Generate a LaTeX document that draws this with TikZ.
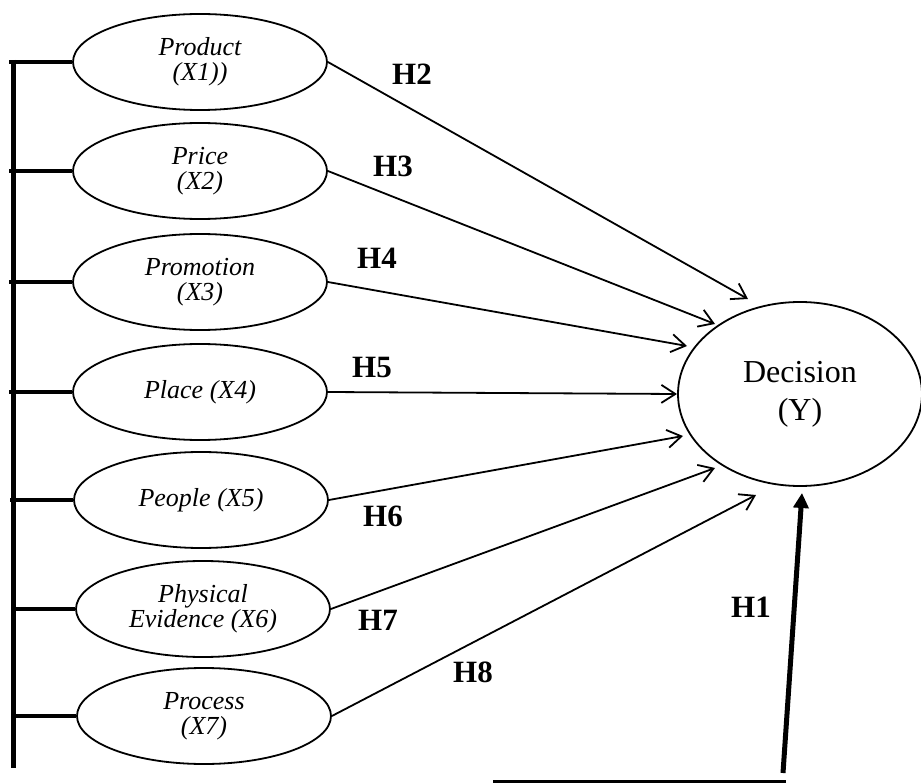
\documentclass[tikz,border=0pt]{standalone}
\usepackage{fontspec}
\setmainfont{Liberation Serif}
\usetikzlibrary{shapes.geometric,arrows.meta}
\begin{document}
\begin{tikzpicture}[x=1pt,y=-1pt,
  var/.style={ellipse,draw,line width=1.8pt,minimum width=254pt,minimum height=96pt,inner sep=0pt,align=center,font=\fontsize{26}{25}\selectfont\itshape},
  dv/.style={ellipse,draw,line width=1.8pt,minimum width=244pt,minimum height=184pt,inner sep=0pt,align=center,font=\fontsize{32}{38}\selectfont},
  hyp/.style={font=\fontsize{31}{31}\selectfont\bfseries,inner sep=0pt},
  link/.style={line width=1.8pt,-{Straight Barb[length=14pt,width=18pt]}},
  tickline/.style={line width=4.5pt},
  barline/.style={line width=5pt},
  mainarrow/.style={line width=5pt,-{Triangle[length=15pt,width=15pt]}}
]
\useasboundingbox (0,0) rectangle (921,783);

% independent variables
\node[var] (x1) at (200,62)  {Product\\(X1))};
\node[var] (x2) at (200,171) {Price\\(X2)};
\node[var] (x3) at (200,282) {Promotion\\(X3)};
\node[var] (x4) at (200,392) {Place (X4)};
\node[var] (x5) at (201,500) {People (X5)};
\node[var] (x6) at (203,609) {Physical\\Evidence (X6)};
\node[var] (x7) at (204,716) {Process\\(X7)};

% dependent variable
\node[dv] (y) at (800,394) {Decision\\(Y)};

% left bar
\coordinate (bartop) at (13,59.8);
\coordinate (barbot) at (13,768);
\draw[barline] (bartop) -- (barbot);
\foreach \n in {x1,x2,x3,x4,x5,x6,x7}{
  \draw[tickline] (\n.west) -- ++(-63,0);
}

% arrow tips
\coordinate (t2) at (748,299);
\coordinate (t3) at (715,324);
\coordinate (t4) at (687,346);
\coordinate (t5) at (677,394);
\coordinate (t6) at (683,436);
\coordinate (t7) at (715,468);
\coordinate (t8) at (756,495);

\draw[link] (x1.east) -- (t2);
\draw[link] (x2.east) -- (t3);
\draw[link] (x3.east) -- (t4);
\draw[link] (x4.east) -- (t5);
\draw[link] (x5.east) -- (t6);
\draw[link] (x6.east) -- (t7);
\draw[link] (x7.east) -- (t8);

% H1 arrow and bottom line
\coordinate (h1base) at (783,773);
\coordinate (h1tip) at (802,493);
\draw[mainarrow] (h1base) -- (h1tip);
\coordinate (b1) at (493,781.5);
\coordinate (b2) at (786,781.5);
\draw[line width=2.5pt] (b1) -- (b2);

% labels
\node[hyp] (lh2) at (412,74)  {H2};
\node[hyp] (lh3) at (393,166) {H3};
\node[hyp] (lh4) at (377,258) {H4};
\node[hyp] (lh5) at (372,368) {H5};
\node[hyp] (lh6) at (383,516) {H6};
\node[hyp] (lh7) at (378,620) {H7};
\node[hyp] (lh8) at (473,672) {H8};
\node[hyp] (lh1) at (751,607) {H1};
\end{tikzpicture}
\end{document}
